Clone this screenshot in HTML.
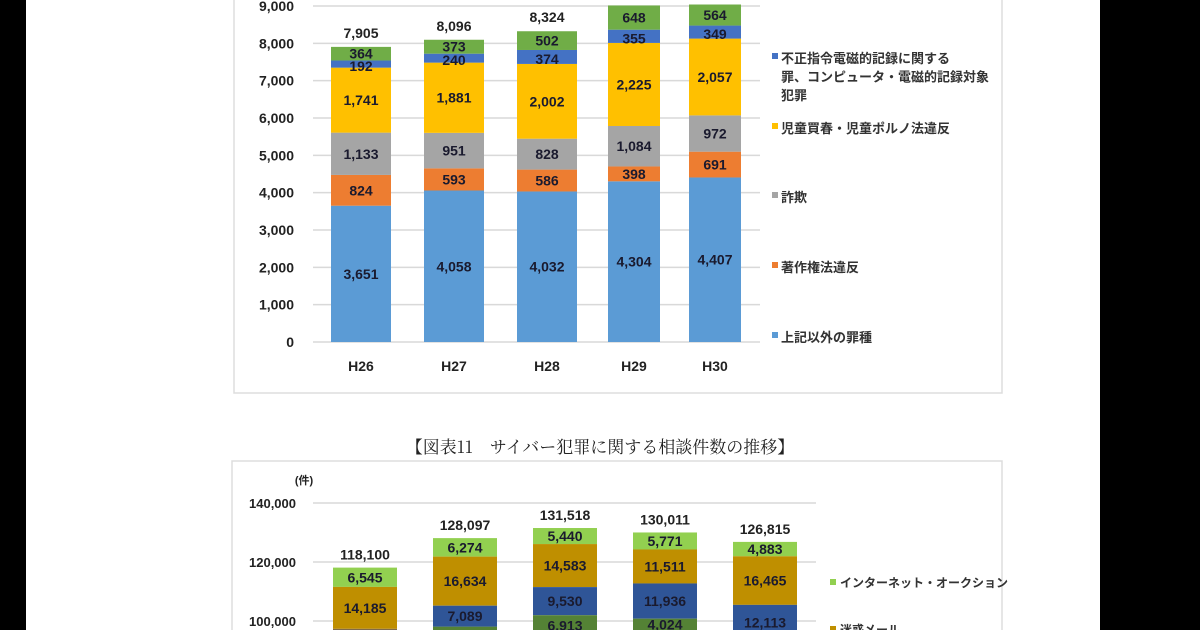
<!DOCTYPE html>
<html><head><meta charset="utf-8"><style>
body{margin:0;width:1200px;height:630px;overflow:hidden;background:#fff;}
svg{display:block}
text{font-family:"Liberation Sans","Noto Sans CJK JP",sans-serif;}
</style></head><body>
<svg id="s" width="1200" height="630" xmlns="http://www.w3.org/2000/svg">
<rect x="0" y="0" width="26" height="630" fill="#000"/>
<rect x="1100" y="0" width="100" height="630" fill="#000"/>
<rect x="234" y="-5" width="768" height="398" fill="none" stroke="#ddd" stroke-width="1.5"/>
<rect x="232" y="461" width="770" height="180" fill="none" stroke="#ddd" stroke-width="1.5"/>
<text x="600" y="453" text-anchor="middle" font-size="17" fill="#222" style="font-family:'Noto Serif CJK SC','Liberation Serif',serif">【図表11　サイバー犯罪に関する相談件数の推移】</text>
<text x="304" y="484" text-anchor="middle" font-size="11" font-weight="bold" fill="#222">(件)</text>
<g id="g"></g>
</svg>
<script>
var g=document.getElementById('g'),NS='http://www.w3.org/2000/svg';
function el(t,a,txt){var e=document.createElementNS(NS,t);for(var k in a)e.setAttribute(k,a[k]);if(txt!=null)e.textContent=txt;g.appendChild(e);return e;}
function fmt(n){return n.toString().replace(/\B(?=(\d{3})+(?!\d))/g,',');}
for(var i=0;i<=9;i++){var y=342-i*37.333;el('line',{x1:313,x2:760,y1:y,y2:y,stroke:'#d9d9d9','stroke-width':1.5});
el('text',{x:294,y:y+5,'text-anchor':'end','font-size':14,'font-weight':'bold',fill:'#222'},fmt(i*1000));}
var cols=['#5b9bd5','#ed7d31','#a5a5a5','#ffc000','#4472c4','#70ad47'];
var d=[[3651,824,1133,1741,192,364],[4058,593,951,1881,240,373],[4032,586,828,2002,374,502],[4304,398,1084,2225,355,648],[4407,691,972,2057,349,564]];
var xs=[[331,60],[424,60],[517,60],[608,52],[689,52]],cats=['H26','H27','H28','H29','H30'];
d.forEach(function(r,j){var c=0,x=xs[j][0],w=xs[j][1];
r.forEach(function(v,k){var y0=342-c*0.037333,y1=342-(c+v)*0.037333;
el('rect',{x:x,y:y1,width:w,height:y0-y1,fill:cols[k]});c+=v;});
c=0;r.forEach(function(v,k){var ym=342-(c+v/2)*0.037333;c+=v;
el('text',{x:x+w/2,y:ym+5+(k==4?2:0),'text-anchor':'middle','font-size':14,'font-weight':'bold',fill:'#1a1a2e'},fmt(v));});
if(j<3)el('text',{x:x+w/2,y:342-c*0.037333-9,'text-anchor':'middle','font-size':14,'font-weight':'bold',fill:'#222'},fmt(c));
el('text',{x:x+w/2,y:371,'text-anchor':'middle','font-size':14,'font-weight':'bold',fill:'#222'},cats[j]);});
var lg=[[58,'#4472c4',['不正指令電磁的記録に関する','罪、コンピュータ・電磁的記録対象','犯罪']],[128,'#ffc000',['児童買春・児童ポルノ法違反']],[197,'#a5a5a5',['詐欺']],[267,'#ed7d31',['著作権法違反']],[337,'#5b9bd5',['上記以外の罪種']]];
lg.forEach(function(l){el('rect',{x:772,y:l[0]-5,width:6,height:6,fill:l[1]});
l[2].forEach(function(t,i){el('text',{x:781,y:l[0]+5+i*18.5,'font-size':13,'font-weight':'bold',fill:'#333'},t);});});
function yb(v){return 503+(140000-v)*59/20000;}
[140000,120000,100000].forEach(function(v){var y=yb(v);el('line',{x1:313,x2:816,y1:y,y2:y,stroke:'#d9d9d9','stroke-width':1.5});
el('text',{x:296,y:y+5,'text-anchor':'end','font-size':13,'font-weight':'bold',fill:'#222'},fmt(v));});
var bc=['#548235','#2f5597','#bf8f00','#92d050'];
var bd=[[118100,[0,0,14185,6545]],[128097,[0,7089,16634,6274]],[131518,[6913,9530,14583,5440]],[130011,[4024,11936,11511,5771]],[126815,[0,12113,16465,4883]]];
var bx=[333,433,533,633,733];
bd.forEach(function(b,j){var tot=b[0],top=tot,x=bx[j];
var segs=b[1].slice();var stack=[];
for(var k=3;k>=0;k--){var v=segs[k];if(!v){continue;}stack.push([k,top,v]);top-=v;}
el('rect',{x:x,y:yb(top),width:64,height:640-yb(top),fill:(j==0?'#7f6a4a':'#548235')});
stack.forEach(function(s){var k=s[0],t=s[1],v=s[2];
el('rect',{x:x,y:yb(t),width:64,height:yb(t-v)-yb(t),fill:bc[k]});
el('text',{x:x+32,y:yb(t-v/2)+5,'text-anchor':'middle','font-size':14,'font-weight':'bold',fill:'#1a1a2e'},fmt(v));});
el('text',{x:x+32,y:yb(tot)-8,'text-anchor':'middle','font-size':14,'font-weight':'bold',fill:'#222'},fmt(tot));});
el('rect',{x:830,y:579,width:6,height:6,fill:'#92d050'});
el('text',{x:840,y:587,'font-size':12,'font-weight':'bold',fill:'#333'},'インターネット・オークション');
el('rect',{x:830,y:626,width:6,height:6,fill:'#bf8f00'});
el('text',{x:840,y:634,'font-size':12,'font-weight':'bold',fill:'#333'},'迷惑メール');
</script>
</body></html>
